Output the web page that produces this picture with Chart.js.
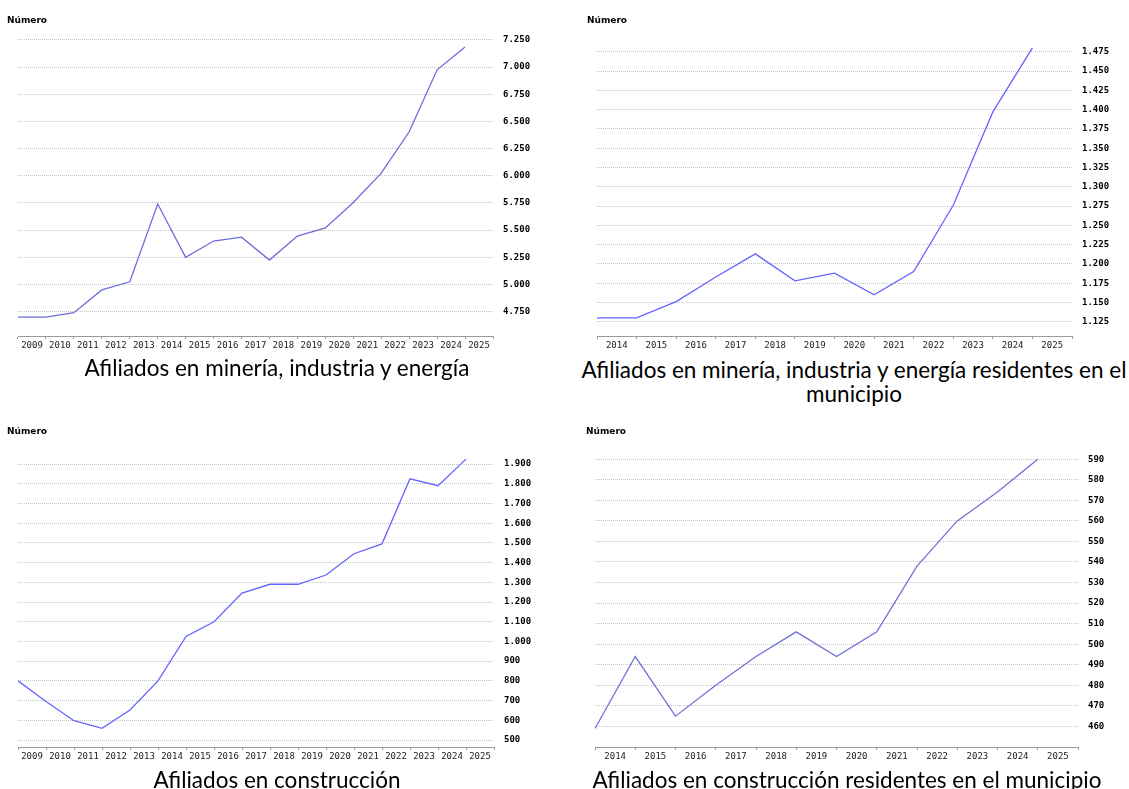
<!DOCTYPE html>
<html lang="es">
<head>
<meta charset="utf-8">
<title>Afiliados a la Seguridad Social</title>
<script src="https://cdn.jsdelivr.net/npm/chart.js"></script>
<style>
  body { margin: 0; background: #fff; width: 1129px; height: 789px; position: relative; overflow: hidden; }
  canvas { position: absolute; }
  .numero { position: absolute; font: bold 9px "DejaVu Sans", sans-serif; color: #000; }
  .pie { position: absolute; font: 22.5px Lato, "Open Sans", sans-serif; color: #000; text-align: center; white-space: nowrap; line-height: 24px; }
</style>
</head>
<body>

<canvas id="gMineria" width="560" height="356" style="left:0; top:0"></canvas>
<canvas id="gMineriaRes" width="569" height="356" style="left:560px; top:0"></canvas>
<canvas id="gConstruccion" width="560" height="347" style="left:0; top:420px"></canvas>
<canvas id="gConstruccionRes" width="569" height="347" style="left:560px; top:420px"></canvas>

<div class="numero" style="left:7px; top:15px">Número</div>
<div class="numero" style="left:587px; top:15px">Número</div>
<div class="numero" style="left:7px; top:426px">Número</div>
<div class="numero" style="left:586px; top:426px">Número</div>

<div class="pie" style="left:0; top:356px; width:554px">Afiliados en minería, industria y energía</div>
<div class="pie" style="left:579px; top:358px; width:550px">Afiliados en minería, industria y energía residentes en el<br>municipio</div>
<div class="pie" style="left:0; top:768px; width:554px">Afiliados en construcción</div>
<div class="pie" style="left:567px; top:768px; width:560px">Afiliados en construcción residentes en el municipio</div>

<script>
  // Afiliados en minería, industria y energía (valor al inicio de cada año)
  const anosMineria = ['2009', '2010', '2011', '2012', '2013', '2014', '2015', '2016', '2017',
    '2018', '2019', '2020', '2021', '2022', '2023', '2024', '2025'];
  const afiliadosMineria = [4700, 4700, 4740, 4950, 5025, 5740, 5250, 5400, 5435,
    5225, 5445, 5520, 5755, 6025, 6405, 6975, 7185];
  const marcasMineria = [4750, 5000, 5250, 5500, 5750, 6000, 6250, 6500, 6750, 7000, 7250];

  // Residentes en el municipio
  const anosMineriaRes = ['2014', '2015', '2016', '2017', '2018', '2019', '2020', '2021',
    '2022', '2023', '2024', '2025'];
  const afiliadosMineriaRes = [1130, 1130, 1151, 1183, 1213, 1178, 1188, 1160, 1190, 1276, 1397, 1480];
  const marcasMineriaRes = [1125, 1150, 1175, 1200, 1225, 1250, 1275, 1300, 1325, 1350,
    1375, 1400, 1425, 1450, 1475];

  // Afiliados en construcción
  const anosConstruccion = ['2009', '2010', '2011', '2012', '2013', '2014', '2015', '2016', '2017',
    '2018', '2019', '2020', '2021', '2022', '2023', '2024', '2025'];
  const afiliadosConstruccion = [800, 695, 598, 559, 652, 800, 1025, 1100, 1245,
    1290, 1290, 1337, 1445, 1495, 1825, 1790, 1925];
  const marcasConstruccion = [500, 600, 700, 800, 900, 1000, 1100, 1200, 1300, 1400,
    1500, 1600, 1700, 1800, 1900];

  // Construcción, residentes en el municipio
  const anosConstruccionRes = ['2014', '2015', '2016', '2017', '2018', '2019', '2020', '2021',
    '2022', '2023', '2024', '2025'];
  const afiliadosConstruccionRes = [459, 494, 465, 480, 494, 506, 494, 506, 538, 560, 574, 590];
  const marcasConstruccionRes = [460, 470, 480, 490, 500, 510, 520, 530, 540, 550, 560, 570, 580, 590];

  // 7250 -> "7.250"
  function formato(v) {
    return String(v).replace(/\B(?=(\d{3})+(?!\d))/g, '.');
  }

  // Cada valor se dibuja en el borde izquierdo de su año; las etiquetas van centradas en la celda
  function grafico(id, anos, valores, marcas, opc) {
    new Chart(document.getElementById(id), {
      type: 'line',
      data: {
        datasets: [{
          data: valores.map((v, i) => ({ x: Number(anos[i]), y: v })),
          xAxisID: 'xv',
          borderColor: opc.color,
          borderWidth: 1.3,
          pointRadius: 0,
          tension: 0,
          fill: false
        }]
      },
      options: {
        responsive: false,
        animation: false,
        events: [],
        layout: { padding: { left: opc.izq, top: opc.arriba, right: 0, bottom: 0 } },
        plugins: { legend: { display: false }, tooltip: { enabled: false } },
        scales: {
          x: {
            type: 'category',
            labels: anos,
            offset: true,
            position: 'bottom',
            grid: { offset: true, drawOnChartArea: false, drawTicks: true, tickLength: 3, color: '#9a9a9a' },
            border: { display: true, color: '#9a9a9a' },
            ticks: {
              font: { family: 'DejaVu Sans Mono', size: 9 },
              color: '#222',
              padding: 1,
              autoSkip: false,
              maxRotation: 0
            },
            afterFit: s => { s.height = 20; }
          },
          xv: {
            type: 'linear',
            display: false,
            min: Number(anos[0]),
            max: Number(anos[anos.length - 1]) + 1
          },
          y: {
            position: 'right',
            min: opc.min,
            max: opc.max,
            afterBuildTicks: s => { s.ticks = marcas.map(v => ({ value: v })); },
            grid: { drawTicks: false, color: '#c4c4c4', lineWidth: 1 },
            border: { display: false, dash: [1, 1] },
            ticks: {
              padding: 10,
              callback: v => formato(v),
              font: { family: 'DejaVu Sans Mono', size: 9, weight: 'bold' },
              color: '#000'
            },
            afterFit: s => { s.width = opc.ancho; }
          }
        }
      }
    });
  }

  grafico('gMineria', anosMineria, afiliadosMineria, marcasMineria,
    { izq: 18, arriba: 38, ancho: 67, min: 4526, max: 7268, color: '#6c6cdc' });
  grafico('gMineriaRes', anosMineriaRes, afiliadosMineriaRes, marcasMineriaRes,
    { izq: 37, arriba: 38, ancho: 57, min: 1106.5, max: 1492.8, color: '#6464ff' });
  grafico('gConstruccion', anosConstruccion, afiliadosConstruccion, marcasConstruccion,
    { izq: 18, arriba: 32, ancho: 66, min: 464.5, max: 1961, color: '#6464ff' });
  grafico('gConstruccionRes', anosConstruccionRes, afiliadosConstruccionRes, marcasConstruccionRes,
    { izq: 35, arriba: 32, ancho: 51, min: 450, max: 593.5, color: '#7070d8' });
</script>
</body>
</html>
